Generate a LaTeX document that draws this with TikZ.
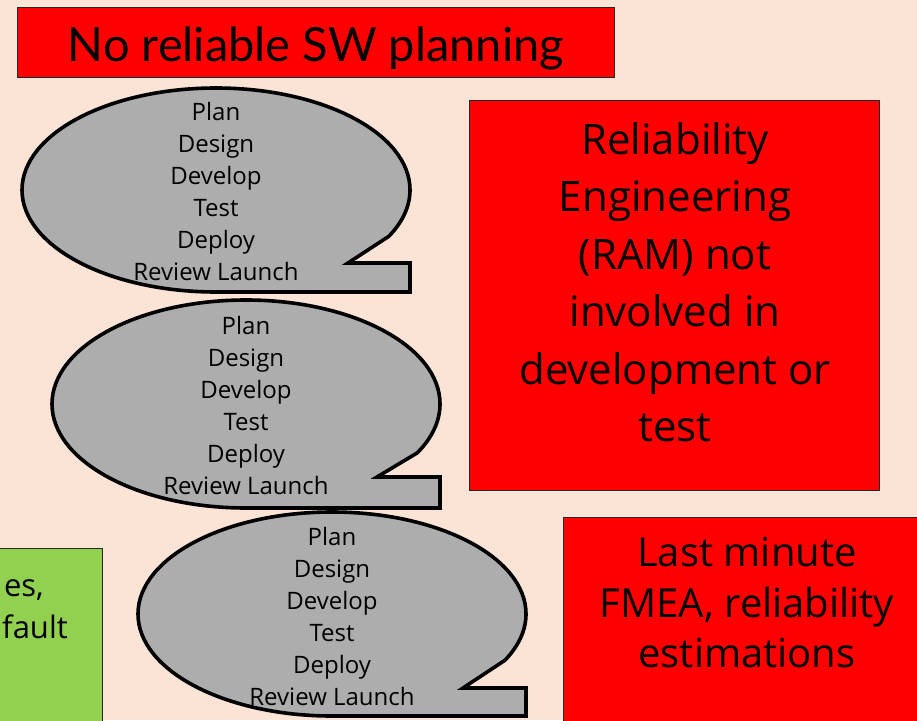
\documentclass[tikz,border=0pt]{standalone}
\usepackage{fontspec}
\setmainfont{Open Sans}
\newfontfamily\titlefont{Lato}
\definecolor{peach}{HTML}{FBE3D6}
\definecolor{alarm}{HTML}{FF0000}
\definecolor{okgreen}{HTML}{92D050}
\definecolor{bubblegray}{HTML}{ADADAD}
\tikzset{
  panel/.style={draw=black!85, line width=1.3pt, inner sep=0pt, anchor=north west},
  redpanel/.style={panel, fill=alarm},
  greenpanel/.style={panel, fill=okgreen},
  bubble/.style={draw=black, fill=bubblegray, line width=3.6pt, line join=miter, miter limit=20},
  steps/.style={align=center, font=\fontsize{24}{32}\selectfont, inner sep=0pt},
  bigtext/.style={align=center, inner sep=0pt},
}
% speech bubble: centre, radii, notch x, tab top, tab right edge, exit angle
\newcommand\speechbubble[8]{%
  \draw[bubble] (#1,#2+#4) arc[start angle=90, end angle=#8, x radius=#3, y radius=#4]
    -- (#5,#6) -- (#7,#6) -- (#7,#2+#4) -- cycle;}
\begin{document}
\begin{tikzpicture}[x=1pt, y=-1pt]
\useasboundingbox (0,0) rectangle (917,720);
\clip (0,0) rectangle (917,720);
\fill[peach] (0,0) rectangle (917,720);

% title banner
\node[redpanel, minimum width=597pt, minimum height=70pt] (titlebox) at (17,7) {};
\node[inner sep=0pt, anchor=base, font=\titlefont\fontsize{47}{50}\selectfont] (title) at (316,61) {No reliable SW planning};

% three lifecycle bubbles
\speechbubble{216}{190}{194}{102}{348}{263}{410}{387}
\node[steps] (cycleA) at (216,191) {Plan\\Design\\Develop\\Test\\Deploy\\Review Launch};
\speechbubble{246}{404}{194}{104}{377}{477}{440}{388}
\node[steps] (cycleB) at (246,405) {Plan\\Design\\Develop\\Test\\Deploy\\Review Launch};
\speechbubble{332}{614}{194}{102}{463}{688}{526}{387}
\node[steps] (cycleC) at (332,616) {Plan\\Design\\Develop\\Test\\Deploy\\Review Launch};

% reliability engineering panel
\node[redpanel, minimum width=410pt, minimum height=390pt] (rambox) at (469,100) {};
\node[bigtext, font=\fontsize{42}{57.5}\selectfont] (ramtext) at (675,282)
  {Reliability\\Engineering\\(RAM) not\\involved in\\development or\\test};

% late analysis panel
\node[redpanel, minimum width=400pt, minimum height=260pt] (fmeabox) at (563,517) {};
\node[bigtext, font=\fontsize{40}{50.5}\selectfont] (fmeatext) at (747,603)
  {Last minute\\FMEA, reliability\\estimations};

% green panel at the left edge
\node[greenpanel, minimum width=140pt, minimum height=220pt] (greenbox) at (-38,548) {};
\node[inner sep=0pt, anchor=base east, font=\fontsize{31}{40}\selectfont] (greenA) at (44,596) {es,};
\node[inner sep=0pt, anchor=base east, font=\fontsize{31}{40}\selectfont] (greenB) at (68,638) {fault};
\end{tikzpicture}
\end{document}
